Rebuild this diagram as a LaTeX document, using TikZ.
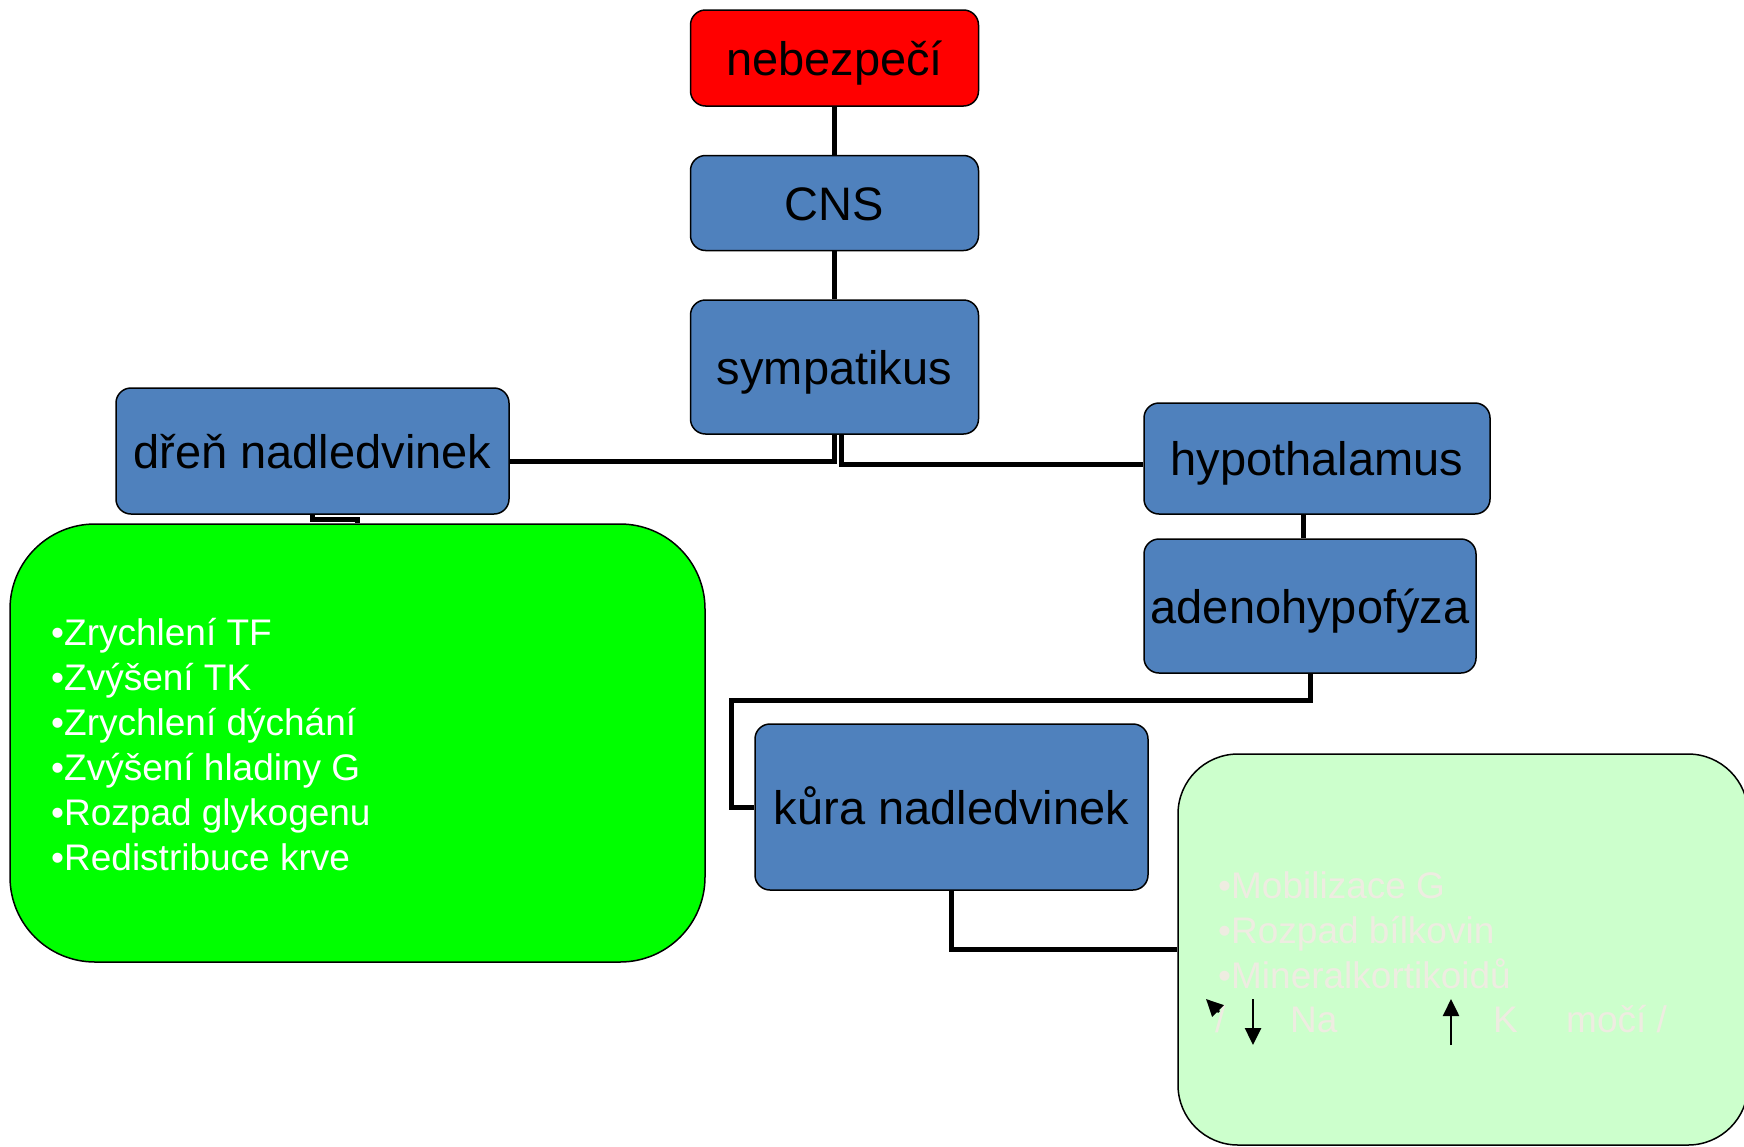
\documentclass[tikz,border=0pt]{standalone}
\usepackage{fontspec}
\setmainfont{Liberation Sans}
\usetikzlibrary{arrows.meta, positioning}

\definecolor{boxblue}{HTML}{4F81BD}
\definecolor{effgreen}{HTML}{00FF00}
\definecolor{palegreen}{HTML}{CCFFCC}
\definecolor{paletext}{HTML}{EEECE1}

\begin{document}
\begin{tikzpicture}[
    x=1pt, y=-1pt,
    every node/.append style = {font=\fontsize{47}{56}\selectfont},
    bluebox/.style = {draw=black, line width=1.5pt, fill=boxblue, rounded corners=15pt,
      inner sep=0pt, text=black, text height=34pt, text depth=0pt},
    listbox/.style = {draw=black, line width=1.5pt, inner sep=0pt},
    listitem/.style = {anchor=base west, inner sep=0pt, font=\fontsize{37}{44}\selectfont},
    conn/.style = {line width=5pt, draw=black},
    smallarrow/.style = {line width=2.5pt, -{Triangle[length=17pt,width=16pt]}}
  ]
  \useasboundingbox (0,0) rectangle (1744,1146);

  % chain from the top
  \node[bluebox, fill=red, minimum width=288pt, minimum height=96pt] (danger) at (834.5,58) {nebezpečí};
  \node[bluebox, minimum width=288pt, minimum height=95pt, below=48pt of danger] (cns) {CNS};
  \node[bluebox, minimum width=288pt, minimum height=134pt, below=48pt of cns] (symp) {sympatikus};

  \node[bluebox, minimum width=393pt, minimum height=126pt] (dren) at (312.5,451) {dřeň nadledvinek};
  \node[bluebox, minimum width=346pt, minimum height=111pt] (hypo) at (1317,458.5) {hypothalamus};
  \node[bluebox, minimum width=332pt, minimum height=134pt] (adeno) at (1310,606) {adenohypofýza};
  \node[bluebox, minimum width=393pt, minimum height=166pt] (kura) at (951.5,807) {kůra nadledvinek};

  % effect boxes
  \node[listbox, fill=effgreen, rounded corners=85pt, minimum width=695pt, minimum height=438pt]
    (green) at (357.5,743) {};
  \node[listbox, fill=palegreen, rounded corners=60pt, minimum width=570pt, minimum height=391pt]
    (light) at (1463,949.5) {};

  \foreach \t [count=\i] in {Zrychlení TF, Zvýšení TK, Zrychlení dýchání,
      Zvýšení hladiny G, Rozpad glykogenu, Redistribuce krve}
    \node[listitem, text=white] (eff\i) at (51,600+45*\i) {•\t};

  \foreach \t [count=\i] in {Mobilizace G, Rozpad bílkovin, Mineralkortikoidů}
    \node[listitem, text=paletext] (cort\i) at (1218,853+45*\i) {•\t};

  \node[listitem, text=paletext] (slash) at (1215,1032) {/};
  \node[listitem, text=paletext] (na) at (1290,1032) {Na};
  \node[listitem, text=paletext] (kal) at (1493,1032) {K};
  \node[listitem, text=paletext] (moci) at (1566,1032) {močí /};

  \draw[smallarrow] (1219,1012) -- (1206,999);
  \draw[smallarrow] (1253,999) -- (1253,1045);
  \draw[smallarrow] (1451,1045) -- (1451,999);

  % connectors
  \draw[conn] (danger) -- (cns);
  \draw[conn] (cns) -- (symp);
  \draw[conn] (symp.south) |- ([yshift=-10pt]dren.east);
  \draw[conn] ([xshift=7pt]symp.south) |- ([yshift=-6pt]hypo.west);
  \draw[conn] (dren.south) -- ++(0,5) -| (green.north);
  \draw[conn] ([xshift=-7pt]adeno.north) -- ([xshift=-7pt]adeno.north |- hypo.south);
  \coordinate (bend) at (731,700);
  \draw[conn] (adeno.south) |- (bend) |- (kura.west);
  \draw[conn] (kura.south) |- (light.west);
\end{tikzpicture}
\end{document}
